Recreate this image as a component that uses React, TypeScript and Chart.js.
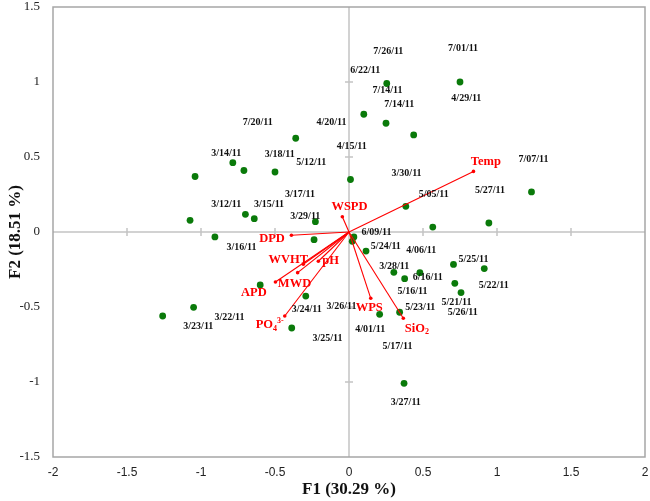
import { useEffect, useRef } from 'react';
import { Chart, registerables } from 'chart.js';

Chart.register(...registerables);

// Observation scores (F1, F2)
const scoreX = [0.75, 0.255, 0.10, 0.25, 0.437, -0.36, -0.785, -0.71, -0.50, -1.04, 0.01, 1.233, 0.384, -0.70, -0.64, -1.074, -0.227, 0.945, 0.566, 0.033, -0.906, 0.022, -0.236, 0.115, 0.706, 0.914, 0.303, 0.479, 0.376, 0.715, -0.60, 0.757, -0.292, -1.05, 0.342, 0.207, -1.259, -0.387, 0.372];
const scoreY = [1.0, 0.99, 0.785, 0.725, 0.647, 0.625, 0.462, 0.41, 0.40, 0.37, 0.35, 0.267, 0.171, 0.118, 0.089, 0.078, 0.069, 0.06, 0.033, -0.033, -0.033, -0.062, -0.051, -0.127, -0.216, -0.244, -0.269, -0.271, -0.311, -0.342, -0.353, -0.404, -0.427, -0.502, -0.535, -0.549, -0.56, -0.64, -1.009];

// Observation date labels and their anchors (data units)
const obsLabels = ['7/26/11', '7/01/11', '6/22/11', '7/14/11', '4/29/11', '7/14/11', '7/20/11', '4/20/11', '4/15/11', '3/14/11', '3/18/11', '5/12/11', '7/07/11', '3/30/11', '5/27/11', '3/17/11', '5/05/11', '3/12/11', '3/15/11', '3/29/11', '6/09/11', '3/16/11', '5/24/11', '4/06/11', '5/25/11', '3/28/11', '6/16/11', '5/22/11', '5/16/11', '5/21/11', '3/24/11', '3/26/11', '5/23/11', '5/26/11', '3/22/11', '3/23/11', '4/01/11', '3/25/11', '5/17/11', '3/27/11'];
const obsLabelX = [0.266, 0.771, 0.109, 0.26, 0.793, 0.339, -0.617, -0.118, 0.019, -0.83, -0.468, -0.255, 1.247, 0.389, 0.953, -0.331, 0.572, -0.83, -0.54, -0.295, 0.185, -0.726, 0.249, 0.488, 0.841, 0.305, 0.532, 0.978, 0.429, 0.726, -0.286, -0.051, 0.482, 0.768, -0.808, -1.018, 0.143, -0.146, 0.328, 0.384];
const obsLabelY = [1.204, 1.222, 1.075, 0.945, 0.889, 0.851, 0.731, 0.731, 0.573, 0.527, 0.516, 0.467, 0.487, 0.393, 0.278, 0.253, 0.253, 0.187, 0.182, 0.107, 0.0, -0.104, -0.093, -0.124, -0.184, -0.227, -0.304, -0.353, -0.396, -0.471, -0.513, -0.493, -0.504, -0.535, -0.567, -0.627, -0.649, -0.707, -0.76, -1.138];

// Variable loadings (vectors)
const varNames = ['Temp', 'WSPD', 'DPD', 'WVHT', 'pH', 'MWD', 'APD', 'PO4', 'WPS', 'SiO2'];
const varX = [0.841, -0.045, -0.389, -0.309, -0.207, -0.347, -0.497, -0.434, 0.147, 0.367];
const varY = [0.404, 0.102, -0.022, -0.215, -0.195, -0.271, -0.333, -0.56, -0.442, -0.575];
const varLabelX = [0.925, 0.003, -0.52, -0.41, -0.124, -0.368, -0.643, -0.536, 0.137, 0.459];
const varLabelY = [0.467, 0.167, -0.047, -0.182, -0.195, -0.342, -0.404, -0.62, -0.502, -0.642];

const xTicks = [-2, -1.5, -1, -0.5, 0, 0.5, 1, 1.5, 2];
const yTicks = [-1.5, -1, -0.5, 0, 0.5, 1, 1.5];

const GREEN = '#0a7a0a';
const RED = '#ff0000';
const SERIF = "'Liberation Serif', 'Times New Roman', serif";

type Seg = { t: string; s: number };
function richSegments(name: string): Seg[] {
  if (name === 'PO4') return [{ t: 'PO', s: 0 }, { t: '4', s: -1 }, { t: '3-', s: 1 }];
  if (name === 'SiO2') return [{ t: 'SiO', s: 0 }, { t: '2', s: -1 }];
  return [{ t: name, s: 0 }];
}

const overlayPlugin = {
  id: 'biplotOverlay',
  beforeDatasetsDraw(chart: any) {
    const { ctx, chartArea, scales } = chart;
    const xs = scales.x, ys = scales.y;
    const x0 = xs.getPixelForValue(0);
    const y0 = ys.getPixelForValue(0);
    ctx.save();
    ctx.strokeStyle = '#c4c4c4';
    ctx.lineWidth = 1.5;
    ctx.beginPath();
    ctx.moveTo(chartArea.left, y0);
    ctx.lineTo(chartArea.right, y0);
    ctx.moveTo(x0, chartArea.top);
    ctx.lineTo(x0, chartArea.bottom);
    for (const v of xTicks) {
      if (v === 0 || v === -2 || v === 2) continue;
      const px = xs.getPixelForValue(v);
      ctx.moveTo(px, y0 - 4);
      ctx.lineTo(px, y0 + 4);
    }
    for (const v of yTicks) {
      if (v === 0 || v === -1.5 || v === 1.5) continue;
      const py = ys.getPixelForValue(v);
      ctx.moveTo(x0 - 4, py);
      ctx.lineTo(x0 + 4, py);
    }
    ctx.stroke();
    // frame
    ctx.strokeStyle = '#a6a6a6';
    ctx.lineWidth = 1.5;
    ctx.strokeRect(chartArea.left, chartArea.top, chartArea.right - chartArea.left, chartArea.bottom - chartArea.top);
    ctx.restore();
  },
  afterDatasetsDraw(chart: any) {
    const { ctx, scales } = chart;
    const xs = scales.x, ys = scales.y;
    ctx.save();
    // observation labels
    ctx.fillStyle = '#111111';
    ctx.font = `bold 10px ${SERIF}`;
    ctx.textAlign = 'center';
    ctx.textBaseline = 'middle';
    obsLabels.forEach((lab, i) => {
      ctx.fillText(lab, xs.getPixelForValue(obsLabelX[i]), ys.getPixelForValue(obsLabelY[i]));
    });
    // variable labels
    ctx.fillStyle = RED;
    ctx.textAlign = 'left';
    varNames.forEach((name, i) => {
      const segs = richSegments(name);
      let w = 0;
      const widths = segs.map((sg) => {
        ctx.font = `bold ${sg.s === 0 ? 12.5 : 8}px ${SERIF}`;
        const m = ctx.measureText(sg.t).width;
        w += m;
        return m;
      });
      let px = xs.getPixelForValue(varLabelX[i]) - w / 2;
      const py = ys.getPixelForValue(varLabelY[i]);
      segs.forEach((sg, k) => {
        ctx.font = `bold ${sg.s === 0 ? 12.5 : 8}px ${SERIF}`;
        const dy = sg.s === 0 ? 0 : sg.s < 0 ? 3.5 : -4;
        ctx.fillText(sg.t, px, py + dy);
        px += widths[k];
      });
    });
    ctx.restore();
  },
};

export default function App() {
  const ref = useRef<HTMLCanvasElement | null>(null);
  useEffect(() => {
    if (!ref.current) return;
    const vectorSets = varNames.map((name, i) => ({
      label: name,
      data: [{ x: 0, y: 0 }, { x: varX[i], y: varY[i] }],
      showLine: true,
      borderColor: RED,
      backgroundColor: RED,
      borderWidth: 1.1,
      pointRadius: [0, 1.8],
      pointBorderWidth: 0,
      order: 1,
    }));
    const chart = new Chart(ref.current, {
      type: 'scatter',
      data: {
        datasets: [
          {
            label: 'Observations',
            data: scoreX.map((x, i) => ({ x, y: scoreY[i] })),
            backgroundColor: GREEN,
            borderColor: GREEN,
            pointRadius: 3.4,
            pointBorderWidth: 0,
            order: 2,
          },
          ...vectorSets,
        ] as any,
      },
      options: {
        animation: false,
        responsive: false,
        maintainAspectRatio: false,
        devicePixelRatio: 1,
        layout: { padding: { left: 0, right: 5, top: 7, bottom: 0 } },
        plugins: {
          legend: { display: false },
          tooltip: { enabled: false },
        },
        scales: {
          x: {
            type: 'linear',
            min: -2,
            max: 2,
            afterBuildTicks: (s: any) => { s.ticks = xTicks.map((v) => ({ value: v })); },
            afterFit: (s: any) => {
              s.height = 44;
              s.paddingLeft = 0; s.paddingRight = 0; s.paddingTop = 0; s.paddingBottom = 0;
            },
            grid: { display: false, drawTicks: false },
            border: { display: false },
            ticks: {
              padding: 10,
              color: '#222',
              font: { family: "'Liberation Sans', Arial, sans-serif", size: 12, lineHeight: 1 },
              callback: (v: any) => String(Number(Number(v).toFixed(1))),
            },
            title: {
              display: true,
              text: 'F1 (30.29 %)',
              color: '#111',
              font: { family: SERIF, size: 17, weight: 'bold' },
              padding: { top: 0, bottom: 1 },
            },
          },
          y: {
            type: 'linear',
            min: -1.5,
            max: 1.5,
            afterBuildTicks: (s: any) => { s.ticks = yTicks.map((v) => ({ value: v })); },
            afterFit: (s: any) => {
              s.width = 53;
              s.paddingLeft = 0; s.paddingRight = 0; s.paddingTop = 0; s.paddingBottom = 0;
            },
            grid: { display: false, drawTicks: false },
            border: { display: false },
            ticks: {
              padding: 13,
              color: '#222',
              font: { family: SERIF, size: 13, lineHeight: 1 },
              callback: (v: any) => String(Number(Number(v).toFixed(1))),
            },
            title: {
              display: true,
              text: 'F2 (18.51 %)',
              color: '#111',
              font: { family: SERIF, size: 17, weight: 'bold' },
              padding: { top: 5, bottom: 0 },
            },
          },
        },
      },
      plugins: [overlayPlugin],
    });
    return () => chart.destroy();
  }, []);
  return (
    <div style={{ position: 'fixed', left: 0, top: 0, width: 650, height: 501, background: '#fff' }}>
      <canvas ref={ref} width={650} height={501} style={{ display: 'block', width: 650, height: 501 }} />
    </div>
  );
}
